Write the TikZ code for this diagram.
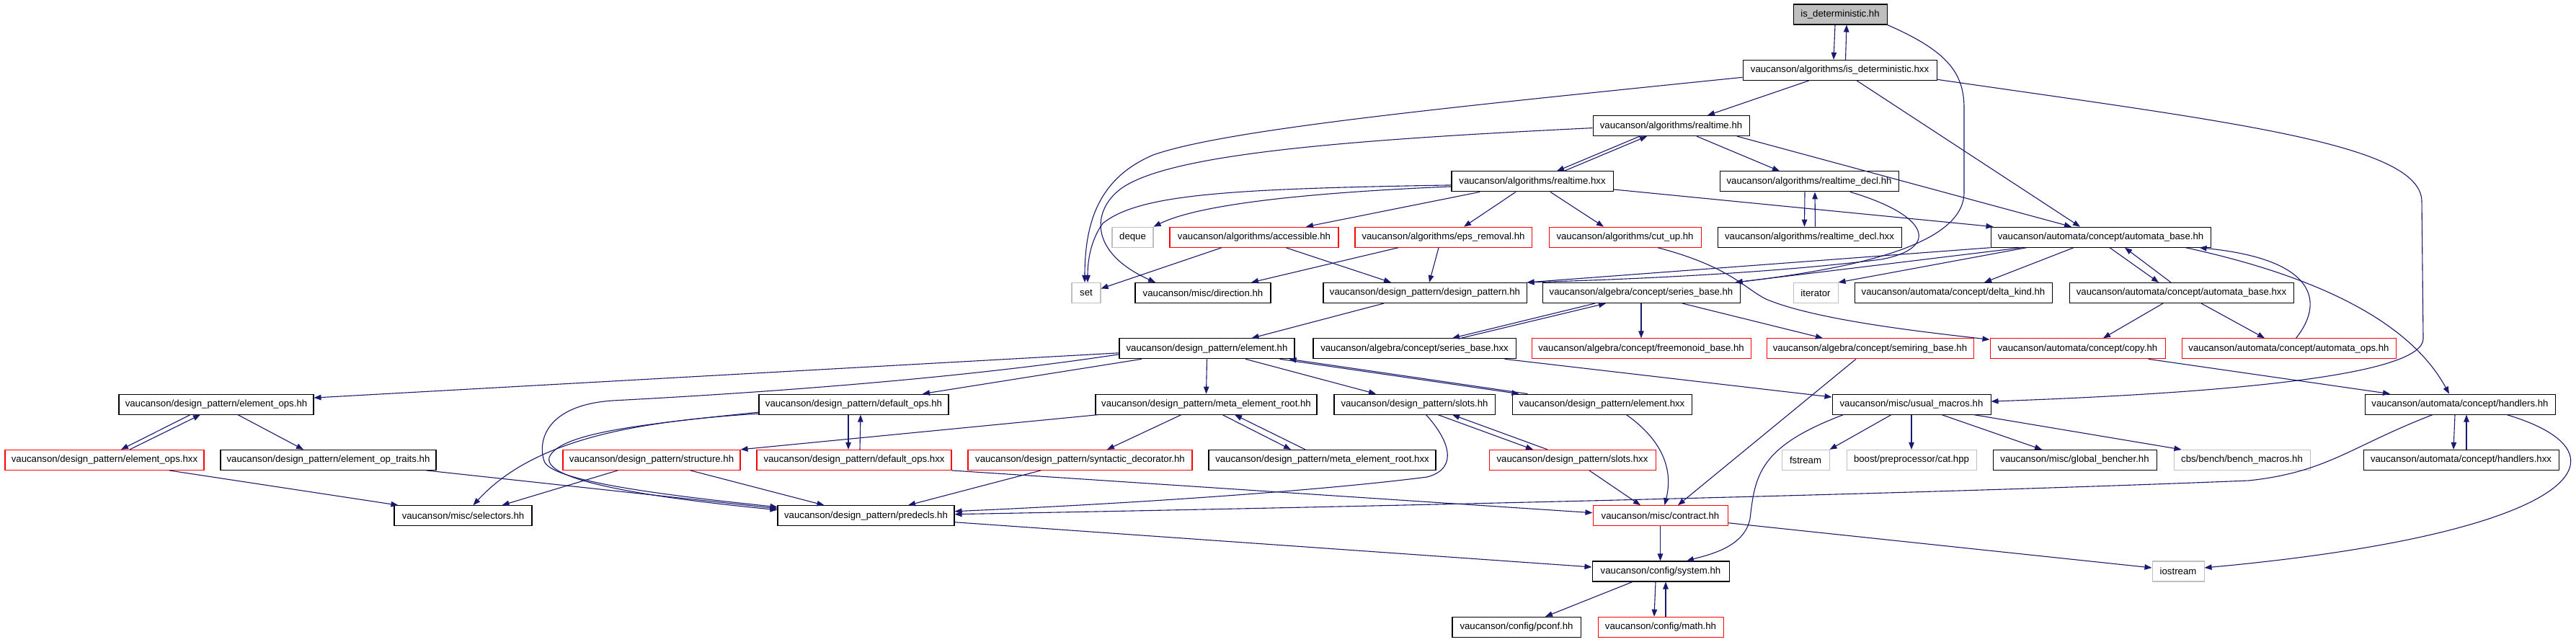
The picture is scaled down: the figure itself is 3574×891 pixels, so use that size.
\documentclass[tikz,border=0pt]{standalone}
\usepackage{fontspec}
\setmainfont{Liberation Sans}
\usetikzlibrary{arrows.meta}
\definecolor{edgecol}{HTML}{191970}
\definecolor{redb}{HTML}{FF0000}
\definecolor{grayb}{HTML}{BFBFBF}
\begin{document}
\begin{tikzpicture}[x=1pt,y=-1pt,
  bx/.style={draw=black, line width=1.05pt, minimum height=28pt, inner sep=0pt, fill=white, font=\fontsize{13.2}{15}\selectfont},
  rd/.style={bx, draw=redb},
  gy/.style={bx, draw=grayb},
  lnk/.style={draw=edgecol, line width=1.1pt, -{Triangle[length=10pt,width=7.5pt]}}]
\fill[white] (0,0) rectangle (3574,891);
\useasboundingbox (0,0) rectangle (3574,891);
% nodes
\node[bx, fill=grayb, minimum width=130pt] (isdh) at (2553,20) {is\_deterministic.hh};
\node[bx, minimum width=269pt] (isdhxx) at (2552.5,97.3) {vaucanson/algorithms/is\_deterministic.hxx};
\node[bx, minimum width=217pt] (rth) at (2318.5,174.6) {vaucanson/algorithms/realtime.hh};
\node[bx, minimum width=224pt] (rthxx) at (2126,251.9) {vaucanson/algorithms/realtime.hxx};
\node[bx, minimum width=248pt] (rtdh) at (2510,251.9) {vaucanson/algorithms/realtime\_decl.hh};
\node[gy, minimum width=57pt] (deque) at (1571.5,329.2) {deque};
\node[rd, minimum width=234pt] (access) at (1740,329.2) {vaucanson/algorithms/accessible.hh};
\node[rd, minimum width=245pt] (eps) at (2002.5,329.2) {vaucanson/algorithms/eps\_removal.hh};
\node[rd, minimum width=211pt] (cutup) at (2254.5,329.2) {vaucanson/algorithms/cut\_up.hh};
\node[bx, minimum width=255pt] (rtdhxx) at (2510.5,329.2) {vaucanson/algorithms/realtime\_decl.hxx};
\node[bx, minimum width=305pt] (abh) at (2914.5,329.2) {vaucanson/automata/concept/automata\_base.hh};
\node[gy, minimum width=40pt] (set) at (1507,406.5) {set};
\node[bx, minimum width=188pt] (dir) at (1669,406.5) {vaucanson/misc/direction.hh};
\node[bx, minimum width=282pt] (dp) at (1977,406.5) {vaucanson/design\_pattern/design\_pattern.hh};
\node[bx, minimum width=274pt] (sb) at (2277,406.5) {vaucanson/algebra/concept/series\_base.hh};
\node[gy, minimum width=62pt] (iter) at (2519,406.5) {iterator};
\node[bx, minimum width=274pt] (dk) at (2710,406.5) {vaucanson/automata/concept/delta\_kind.hh};
\node[bx, minimum width=311pt] (abhxx) at (3026.5,406.5) {vaucanson/automata/concept/automata\_base.hxx};
\node[bx, minimum width=243pt] (el) at (1674.5,483.8) {vaucanson/design\_pattern/element.hh};
\node[bx, minimum width=281pt] (sbhxx) at (1962.5,483.8) {vaucanson/algebra/concept/series\_base.hxx};
\node[rd, minimum width=304pt] (fm) at (2277,483.8) {vaucanson/algebra/concept/freemonoid\_base.hh};
\node[rd, minimum width=287pt] (sr) at (2594.5,483.8) {vaucanson/algebra/concept/semiring\_base.hh};
\node[rd, minimum width=243pt] (copy) at (2882.5,483.8) {vaucanson/automata/concept/copy.hh};
\node[rd, minimum width=297pt] (aops) at (3175.5,483.8) {vaucanson/automata/concept/automata\_ops.hh};
\node[bx, minimum width=270pt] (eops) at (300,561.1) {vaucanson/design\_pattern/element\_ops.hh};
\node[bx, minimum width=263pt] (dops) at (1184.5,561.1) {vaucanson/design\_pattern/default\_ops.hh};
\node[bx, minimum width=307pt] (mer) at (1673.5,561.1) {vaucanson/design\_pattern/meta\_element\_root.hh};
\node[bx, minimum width=223pt] (slots) at (1962.5,561.1) {vaucanson/design\_pattern/slots.hh};
\node[bx, minimum width=249pt] (elhxx) at (2222.5,561.1) {vaucanson/design\_pattern/element.hxx};
\node[bx, minimum width=220pt] (um) at (2652,561.1) {vaucanson/misc/usual\_macros.hh};
\node[bx, minimum width=264pt] (hand) at (3413,561.1) {vaucanson/automata/concept/handlers.hh};
\node[rd, minimum width=276pt] (eopshxx) at (145,638.4) {vaucanson/design\_pattern/element\_ops.hxx};
\node[bx, minimum width=299pt] (eot) at (455.5,638.4) {vaucanson/design\_pattern/element\_op\_traits.hh};
\node[rd, minimum width=246pt] (struct) at (904,638.4) {vaucanson/design\_pattern/structure.hh};
\node[rd, minimum width=270pt] (dopshxx) at (1185,638.4) {vaucanson/design\_pattern/default\_ops.hxx};
\node[rd, minimum width=311pt] (syn) at (1498.5,638.4) {vaucanson/design\_pattern/syntactic\_decorator.hh};
\node[bx, minimum width=315pt] (merhxx) at (1834.5,638.4) {vaucanson/design\_pattern/meta\_element\_root.hxx};
\node[rd, minimum width=231pt] (slotshxx) at (2181.5,638.4) {vaucanson/design\_pattern/slots.hxx};
\node[gy, minimum width=66pt] (fstream) at (2505,638.4) {fstream};
\node[gy, minimum width=180pt] (boost) at (2652,638.4) {boost/preprocessor/cat.hpp};
\node[bx, minimum width=227pt] (gb) at (2878.5,638.4) {vaucanson/misc/global\_bencher.hh};
\node[gy, minimum width=189pt] (bm) at (3110.5,638.4) {cbs/bench/bench\_macros.hh};
\node[bx, minimum width=271pt] (handhxx) at (3414.5,638.4) {vaucanson/automata/concept/handlers.hxx};
\node[bx, minimum width=191pt] (sel) at (642.5,715.7) {vaucanson/misc/selectors.hh};
\node[bx, minimum width=245pt] (pred) at (1201.5,715.7) {vaucanson/design\_pattern/predecls.hh};
\node[rd, minimum width=187pt] (contract) at (2303.5,715.7) {vaucanson/misc/contract.hh};
\node[bx, minimum width=190pt] (sys) at (2304,793) {vaucanson/config/system.hh};
\node[gy, minimum width=72pt] (iostream) at (3022,793) {iostream};
\node[bx, minimum width=178pt] (pconf) at (2104,870.3) {vaucanson/config/pconf.hh};
\node[rd, minimum width=174pt] (math) at (2304,870.3) {vaucanson/config/math.hh};
% edges
\draw[lnk] ([xshift=-7pt]isdh.south) -- ([xshift=-8.5pt]isdhxx.north);
\draw[lnk] ([xshift=8pt]isdhxx.north) -- ([xshift=9pt]isdh.south);
\draw[lnk] (isdh.south east) .. controls (2700,70) and (2725,100) .. (2725,150) -- (2725,267) .. controls (2725,345) and (2550,375) .. ([xshift=-7pt]sb.north east);
\draw[lnk] ([xshift=-42.5pt]isdhxx.south) -- ([xshift=50.5pt]rth.north);
\draw[lnk] ([yshift=-10pt]isdhxx.west) .. controls (2000,150) and (1700,180) .. (1600,215) .. controls (1530,245) and (1505,300) .. ([xshift=-2pt]set.north);
\draw[lnk] ([xshift=23.5pt]isdhxx.south) -- ([xshift=-28.5pt]abh.north);
\draw[lnk] ([yshift=-13pt]isdhxx.east) .. controls (3100,170) and (3360,200) .. (3360,280) -- (3362,470) .. controls (3362,520) and (3100,545) .. ([yshift=4pt]um.east);
\draw[lnk] ([xshift=-43.5pt]rth.south) -- ([xshift=34pt]rthxx.north);
\draw[lnk] ([xshift=44pt]rthxx.north) -- ([xshift=-33.5pt]rth.south);
\draw[lnk] ([xshift=35.5pt]rth.south) -- ([xshift=-41pt]rtdh.north);
\draw[lnk] ([xshift=91.5pt]rth.south) -- ([xshift=-40.5pt]abh.north);
\draw[lnk] ([yshift=-3pt]rth.west) .. controls (1850,195) and (1620,215) .. (1555,262) .. controls (1515,292) and (1510,350) .. ([xshift=-66pt]dir.north);
\draw[lnk] ([yshift=-5pt]rthxx.west) .. controls (1700,262) and (1580,270) .. (1530,310) .. controls (1512,335) and (1509,365) .. ([xshift=2pt]set.north);
\draw[lnk] ([yshift=-7pt]rthxx.west) .. controls (1800,268) and (1660,285) .. (deque.north east);
\draw[lnk] ([xshift=-73pt]rthxx.south) -- ([xshift=72pt]access.north);
\draw[lnk] ([xshift=-23pt]rthxx.south) -- ([xshift=28.5pt]eps.north);
\draw[lnk] ([xshift=25pt]rthxx.south) -- ([xshift=-29.5pt]cutup.north);
\draw[lnk] ([yshift=-11pt]rthxx.east) -- ([xshift=4pt]abh.north west);
\draw[lnk] ([xshift=-6pt]rtdh.south) -- ([xshift=-7pt]rtdhxx.north);
\draw[lnk] ([xshift=8pt]rtdhxx.north) -- ([xshift=8pt]rtdh.south);
\draw[lnk] ([xshift=57pt]rtdh.south) .. controls (2680,300) and (2690,345) .. (2610,360) .. controls (2450,380) and (2250,388) .. (dp.north east);
\draw[lnk] ([xshift=-45pt]access.south) -- ([yshift=6pt]set.east);
\draw[lnk] ([xshift=44pt]access.south) -- ([xshift=-47pt]dp.north);
\draw[lnk] ([xshift=-62.5pt]eps.south) -- ([xshift=67pt]dir.north);
\draw[lnk] ([xshift=-6.5pt]eps.south) -- ([xshift=6pt]dp.north);
\draw[lnk] ([xshift=45.5pt]cutup.south) .. controls (2400,370) and (2420,400) .. (2450,415) .. controls (2520,445) and (2680,462) .. ([yshift=-2pt]copy.north west);
\draw[lnk] (abh.south west) -- (dp.north east);
\draw[lnk] ([xshift=43pt]abh.south west) -- ([xshift=-7pt]sb.north east);
\draw[lnk] ([xshift=50pt]abh.south west) -- (iter.north east);
\draw[lnk] ([xshift=-37.5pt]abh.south) -- ([xshift=43pt]dk.north);
\draw[lnk] ([xshift=12.5pt]abh.south) -- ([xshift=-31.5pt]abhxx.north);
\draw[lnk] ([xshift=-14.5pt]abhxx.north) -- ([xshift=33.5pt]abh.south);
\draw[lnk] ([xshift=118pt]abh.south) .. controls (3200,380) and (3340,440) .. ([xshift=-15pt]hand.north);
\draw[lnk] ([xshift=-25.5pt]abhxx.south) -- ([xshift=35.5pt]copy.north);
\draw[lnk] ([xshift=27.5pt]abhxx.south) -- ([xshift=-33.5pt]aops.north);
\draw[lnk] ([xshift=10pt]aops.north) .. controls (3225,420) and (3215,360) .. ([xshift=137pt]abh.south);
\draw[lnk] ([xshift=-57pt]dp.south) -- ([xshift=62pt]el.north);
\draw[lnk] ([xshift=-64pt]sb.south) -- ([xshift=52.5pt]sbhxx.north);
\draw[lnk] ([xshift=64.5pt]sbhxx.north) -- ([xshift=-49pt]sb.south);
\draw[lnk] (sb.south) -- (fm.north);
\draw[lnk] ([xshift=57pt]sb.south) -- ([xshift=-65.5pt]sr.north);
\draw[lnk] ([xshift=-16pt]sbhxx.south east) -- ([yshift=10pt]um.west);
\draw[lnk] ([xshift=-19.5pt]sr.south) -- ([xshift=24.5pt]contract.north);
\draw[lnk] ([xshift=-24pt]copy.south east) -- ([xshift=-97pt]hand.north);
\draw[lnk] ([yshift=-6pt]el.west) -- ([yshift=9pt]eops.east);
\draw[lnk] ([yshift=-8pt]el.west) .. controls (1300,530) and (1000,548) .. (850,556) .. controls (760,562) and (745,610) .. (755,640) .. controls (765,670) and (950,690) .. ([yshift=12pt]pred.west);
\draw[lnk] ([xshift=-90.5pt]el.south) -- ([xshift=95.5pt]dops.north);
\draw[lnk] (el.south) -- (mer.north);
\draw[lnk] ([xshift=53.5pt]el.south) -- ([xshift=-53.5pt]slots.north);
\draw[lnk] ([xshift=-21pt]el.south east) -- ([xshift=10pt]elhxx.north west);
\draw[lnk] ([xshift=22pt]elhxx.north west) -- ([xshift=-8pt]el.south east);
\draw[lnk] ([xshift=-36pt]eops.south) -- ([xshift=23pt]eopshxx.north);
\draw[lnk] ([xshift=35pt]eopshxx.north) -- ([xshift=-22pt]eops.south);
\draw[lnk] ([xshift=30pt]eops.south) -- ([xshift=-34.5pt]eot.north);
\draw[lnk] ([xshift=90pt]eopshxx.south) -- ([xshift=6pt]sel.north west);
\draw[lnk] ([xshift=-14pt]eot.south east) -- ([yshift=10pt]pred.west);
\draw[lnk] ([xshift=-7.5pt]dops.south) -- ([xshift=-8pt]dopshxx.north);
\draw[lnk] ([xshift=8pt]dopshxx.north) -- ([xshift=9.5pt]dops.south);
\draw[lnk] ([yshift=-11pt]dops.west) .. controls (900,588) and (775,600) .. (762,635) .. controls (752,672) and (950,695) .. ([yshift=8pt]pred.west);
\draw[lnk] ([yshift=-13pt]dops.west) .. controls (880,585) and (740,610) .. ([xshift=14pt]sel.north);
\draw[lnk] (dopshxx.south east) -- ([yshift=4pt]contract.west);
\draw[lnk] ([xshift=4pt]mer.south west) -- (struct.north east);
\draw[lnk] ([xshift=-34.5pt]mer.south) -- ([xshift=37.5pt]syn.north);
\draw[lnk] ([xshift=22.5pt]mer.south) -- ([xshift=-43.5pt]merhxx.north);
\draw[lnk] ([xshift=-23.5pt]merhxx.north) -- ([xshift=39.5pt]mer.south);
\draw[lnk] ([xshift=-47pt]struct.south) -- ([xshift=54pt]sel.north);
\draw[lnk] ([xshift=54pt]struct.south) -- ([xshift=-58pt]pred.north);
\draw[lnk] ([xshift=-54.5pt]syn.south) -- ([xshift=58.5pt]pred.north);
\draw[lnk] ([xshift=32.5pt]slots.south) -- ([xshift=-54.5pt]slotshxx.north);
\draw[lnk] ([xshift=-34.5pt]slotshxx.north) -- ([xshift=52.5pt]slots.south);
\draw[lnk] ([xshift=16pt]slots.south) .. controls (2010,610) and (2025,650) .. (1980,662) .. controls (1800,685) and (1500,702) .. ([yshift=6pt]pred.east);
\draw[lnk] ([xshift=23.5pt]slotshxx.south) -- ([xshift=-27.5pt]contract.north);
\draw[lnk] ([xshift=34pt]elhxx.south) .. controls (2305,610) and (2322,650) .. ([xshift=6pt]contract.north);
\draw[lnk] ([xshift=-28pt]um.south) -- (fstream.north east);
\draw[lnk] (um.south) -- (boost.north);
\draw[lnk] ([xshift=42pt]um.south) -- ([xshift=-45.5pt]gb.north);
\draw[lnk] ([xshift=-24pt]um.south east) -- ([xshift=11pt]bm.north west);
\draw[lnk] ([xshift=16pt]um.south west) .. controls (2440,620) and (2435,660) .. (2428,720) .. controls (2420,760) and (2370,770) .. ([xshift=36pt]sys.north);
\draw[lnk] ([xshift=-7pt]hand.south) -- ([xshift=-10.5pt]handhxx.north);
\draw[lnk] ([xshift=7.5pt]handhxx.north) -- ([xshift=9pt]hand.south);
\draw[lnk] ([xshift=65pt]hand.south) .. controls (3660,630) and (3580,740) .. ([yshift=5pt]iostream.east);
\draw[lnk] ([xshift=-38pt]hand.south) .. controls (3260,620) and (3230,655) .. (3120,667) .. controls (2600,688) and (1800,705) .. ([yshift=2pt]pred.east);
\draw[lnk] ([yshift=-9pt]pred.east) -- ([yshift=6pt]sys.west);
\draw[lnk] (contract.south) -- ([xshift=-0.5pt]sys.north);
\draw[lnk] ([yshift=-10pt]contract.east) -- ([yshift=5pt]iostream.west);
\draw[lnk] ([xshift=-39pt]sys.south) -- ([xshift=40pt]pconf.north);
\draw[lnk] ([xshift=-7pt]sys.south) -- ([xshift=-9pt]math.north);
\draw[lnk] ([xshift=7pt]math.north) -- ([xshift=7pt]sys.south);
\end{tikzpicture}
\end{document}
